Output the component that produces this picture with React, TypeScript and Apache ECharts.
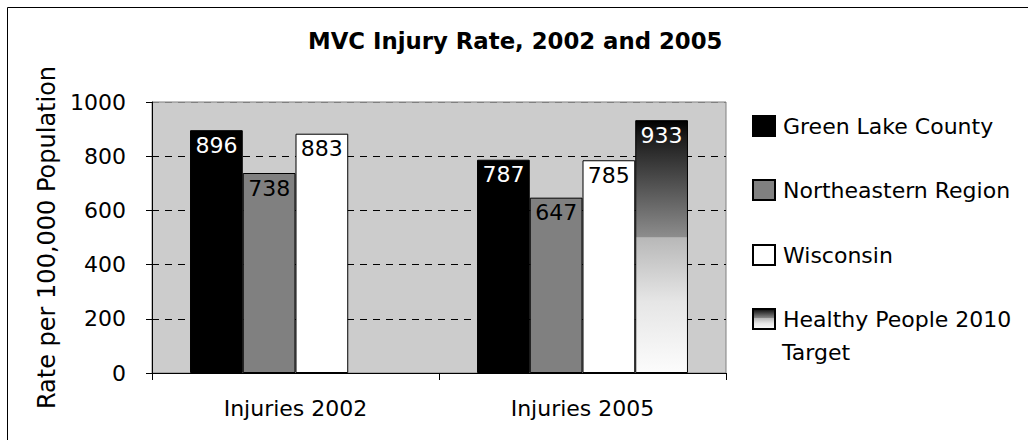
import React, { useEffect, useRef } from "react";
import * as echarts from "echarts";

const categories = ["Injuries 2002", "Injuries 2005"];
const seriesNames = [
  "Green Lake County",
  "Northeastern Region",
  "Wisconsin",
  "Healthy People 2010 Target",
];
const greenLake = [896, 787];
const northeastern = [738, 647];
const wisconsin = [883, 785];
const healthyPeople = [null, 933];
const yMin = 0;
const yMax = 1000;
const yInterval = 200;

const FONT = "DejaVu Sans";

export default function App() {
  const ref = useRef<HTMLDivElement>(null);

  useEffect(() => {
    document.body.style.margin = "0";
    if (!ref.current) return;
    const chart = echarts.init(ref.current, null, { renderer: "svg" });

    const hpGradient = new echarts.graphic.LinearGradient(0, 0, 0, 1, [
      { offset: 0, color: "#000000" },
      { offset: 0.06, color: "#1a1a1a" },
      { offset: 0.46, color: "#8c8c8c" },
      { offset: 0.465, color: "#b8b8b8" },
      { offset: 0.72, color: "#e6e6e6" },
      { offset: 1, color: "#fcfcfc" },
    ]);

    const seriesData = [greenLake, northeastern, wisconsin, healthyPeople];
    const fills: any[] = ["#000000", "#808080", "#ffffff", hpGradient];
    const labelColors = ["#ffffff", "#000000", "#000000", "#ffffff"];
    const legendCenters = [127, 191, 256, 320];

    const option: any = {
      animation: false,
      backgroundColor: "#ffffff",
      title: {
        text: "MVC Injury Rate, 2002 and 2005",
        left: 303,
        top: 24,
        textStyle: {
          fontFamily: FONT,
          fontWeight: "bold",
          fontSize: 22.8,
          color: "#000",
        },
      },
      grid: {
        left: 152,
        top: 102,
        width: 574,
        height: 271,
        show: true,
        backgroundColor: "#cccccc",
        borderColor: "#808080",
        borderWidth: 1,
      },
      legend: seriesNames.map((n, i) => ({
        data: [n],
        orient: "vertical",
        left: 752,
        top: legendCenters[i] - 12,
        padding: 0,
        itemWidth: 22,
        itemHeight: 20,
        icon: "rect",
        selectedMode: false,
        formatter: (name: string) =>
          name === "Healthy People 2010 Target" ? "Healthy People 2010" : name,
        textStyle: {
          fontFamily: FONT,
          fontSize: 22,
          color: "#000",
          padding: [0, 0, 0, 3],
        },
      })),
      graphic: [
        {
          type: "rect",
          shape: { x: 7.5, y: 7.5, width: 1040, height: 450 },
          style: { fill: "none", stroke: "#000", lineWidth: 1 },
          silent: true,
        },
        {
          type: "text",
          x: 782,
          y: 352,
          style: {
            text: "Target",
            fontFamily: FONT,
            fontSize: 22,
            fill: "#000",
            verticalAlign: "middle",
          },
        },
      ],
      xAxis: {
        type: "category",
        data: categories,
        axisLine: { lineStyle: { color: "#000", width: 1 } },
        axisTick: { show: true, length: 7, lineStyle: { color: "#000" } },
        axisLabel: {
          fontFamily: FONT,
          fontSize: 22,
          color: "#000",
          margin: 24,
        },
      },
      yAxis: {
        type: "value",
        min: yMin,
        max: yMax,
        interval: yInterval,
        name: "Rate per 100,000 Population",
        nameLocation: "middle",
        nameGap: 90,
        nameTextStyle: { fontFamily: FONT, fontSize: 24, color: "#000" },
        axisLine: { show: true, lineStyle: { color: "#000", width: 1 } },
        axisTick: { show: true, length: 6, lineStyle: { color: "#000" } },
        axisLabel: {
          fontFamily: FONT,
          fontSize: 22,
          color: "#000",
          margin: 26,
          formatter: (v: number) => String(v),
        },
        splitLine: {
          show: true,
          lineStyle: {
            color: ["#000", "#000", "#000", "#000", "#000", "#808080"],
            type: [7, 6],
            width: 1,
          },
        },
      },
      series: seriesNames.map((n, i) => ({
        name: n,
        type: "bar",
        data: seriesData[i],
        barGap: "0%",
        barCategoryGap: "26.5%",
        itemStyle: {
          color: fills[i],
          borderColor: "#000",
          borderWidth: 1,
        },
        label: {
          show: true,
          position: "insideTop",
          distance: 4,
          fontFamily: FONT,
          fontSize: 22,
          color: labelColors[i],
        },
      })),
    };

    chart.setOption(option);
    return () => chart.dispose();
  }, []);

  return <div ref={ref} style={{ width: 1028, height: 440 }} />;
}
